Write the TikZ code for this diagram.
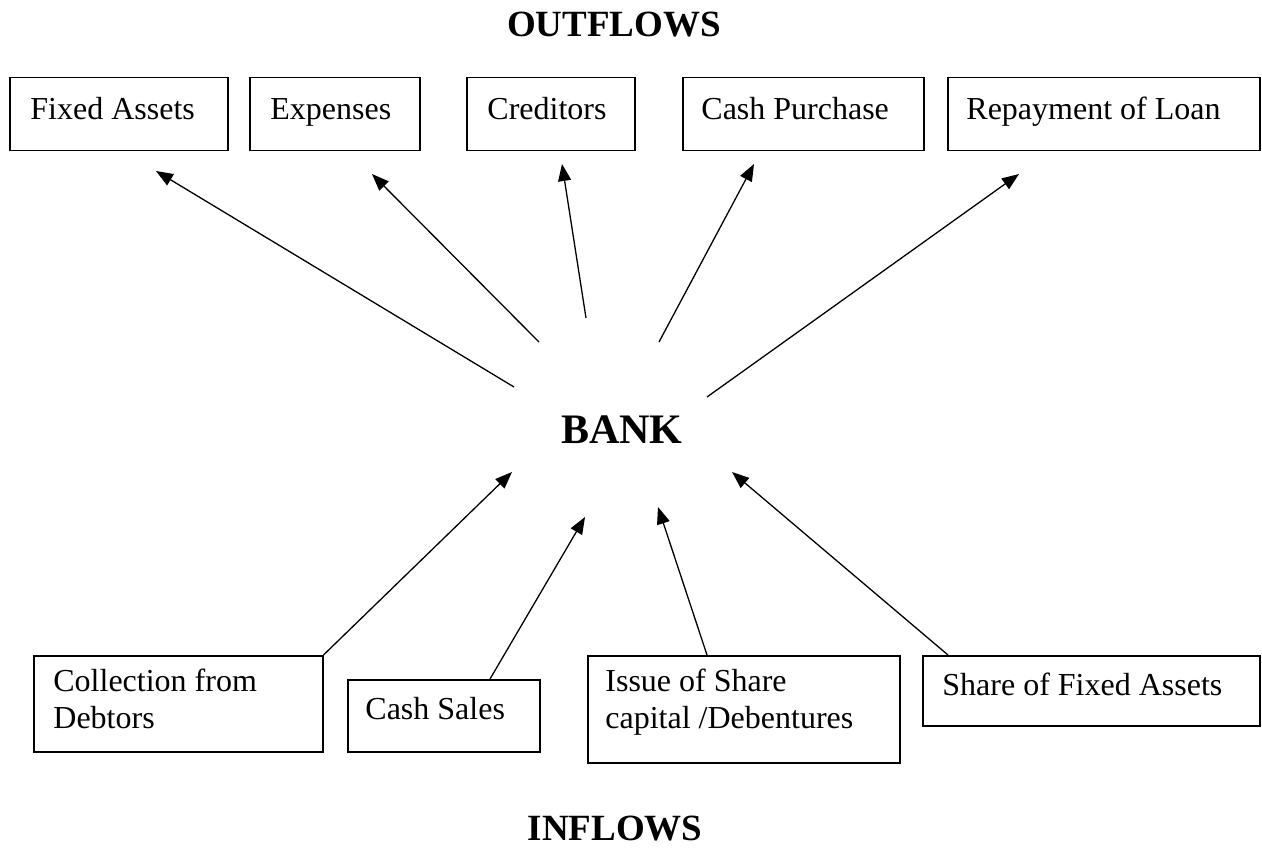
\documentclass[tikz,border=0pt]{standalone}
\usepackage{fontspec}
\setmainfont{Liberation Serif}
\usetikzlibrary{arrows.meta}

\tikzset{
  box/.style={draw, rectangle, anchor=north west, inner sep=0pt, line width=0.75pt},
  boxtext/.style={anchor=north west, inner sep=0pt, align=left,
    font=\fontsize{16}{18.5}\selectfont, execute at begin node=\strut},
  heading/.style={font=\bfseries\fontsize{18.5}{22}\selectfont},
  flow/.style={-{Triangle[length=8.5pt,width=6.5pt]}, line width=0.65pt}
}

\begin{document}
\begin{tikzpicture}[x=0.5pt, y=-0.5pt]
        \useasboundingbox (0,0) rectangle (1262,850);
        % headings
        \node[heading] (out) at (614,25) {OUTFLOWS};
        \node[font=\bfseries\fontsize{21}{25}\selectfont] (bank) at (622,430) {BANK};
        \node[heading] (in) at (615,829) {INFLOWS};
        % outflow boxes
        \draw (9,77)   node[box, minimum width=109pt, minimum height=36.5pt] (fa) {};
        \draw (249,77) node[box, minimum width=85pt, minimum height=36.5pt] (ex) {};
        \draw (466,77) node[box, minimum width=84pt, minimum height=36.5pt] (cr) {};
        \draw (682,77) node[box, minimum width=120.5pt, minimum height=36.5pt] (cp) {};
        \draw (947,77) node[box, minimum width=156pt, minimum height=36.5pt] (rl) {};
        \node[boxtext] (fa-t) at (30,93)  {Fixed Assets};
        \node[boxtext] (ex-t) at (270,93) {Expenses};
        \node[boxtext] (cr-t) at (487,93) {Creditors};
        \node[boxtext] (cp-t) at (701,93) {Cash Purchase};
        \node[boxtext] (rl-t) at (966,93) {Repayment of Loan};
        % inflow boxes
        \draw (33,655)  node[box, minimum width=144.5pt, minimum height=48pt] (cd) {};
        \draw (347,679) node[box, minimum width=96pt, minimum height=36pt] (cs) {};
        \draw (587,655) node[box, minimum width=156pt, minimum height=53.5pt] (is) {};
        \draw (922,655) node[box, minimum width=168.5pt, minimum height=35pt] (sf) {};
        \node[boxtext] (cd-t) at (53,669)  {Collection from\\Debtors};
        \node[boxtext] (cs-t) at (365,693) {Cash Sales};
        \node[boxtext] (is-t) at (605,669) {Issue of Share\\capital /Debentures};
        \node[boxtext] (sf-t) at (942,669) {Share of Fixed Assets};
        % arrow ends round the bank
        \coordinate (s1) at (514,387);  \coordinate (e1) at (156,171);
        \coordinate (s2) at (539,342);  \coordinate (e2) at (372,174);
        \coordinate (s3) at (586,318);  \coordinate (e3) at (562,164);
        \coordinate (s4) at (659,342);  \coordinate (e4) at (754,164);
        \coordinate (s5) at (707,397);  \coordinate (e5) at (1019,174);
        \coordinate (i1) at (512,472);
        \coordinate (i2) at (585,517);
        \coordinate (i3) at (658,507);
        \coordinate (i4) at (732,472);
        % outflows
        \draw[flow] (s1) -- (e1);
        \draw[flow] (s2) -- (e2);
        \draw[flow] (s3) -- (e3);
        \draw[flow] (s4) -- (e4);
        \draw[flow] (s5) -- (e5);
        % inflows
        \draw[flow] (cd.north east) -- (i1);
        \draw[flow] ([xshift=71.5pt]cs.north west) -- (i2);
        \draw[flow] ([xshift=60pt]is.north west) -- (i3);
        \draw[flow] ([xshift=13pt]sf.north west) -- (i4);
\end{tikzpicture}
\end{document}
